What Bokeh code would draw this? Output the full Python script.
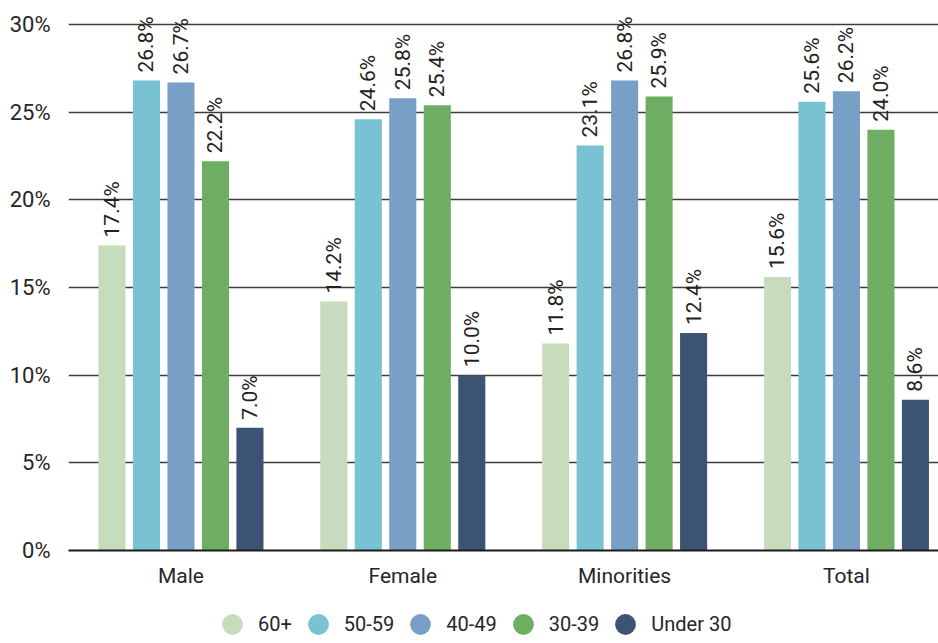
import numpy as np
from bokeh.plotting import figure
from bokeh.layouts import column
from bokeh.models import (ColumnDataSource, Range1d, FixedTicker, PrintfTickFormatter,
                          Legend, LegendItem)
from bokeh.core.properties import value
from bokeh.embed import file_html
from bokeh.resources import INLINE

# ---- data ----
groups = ["Male", "Female", "Minorities", "Total"]
series = ["60+", "50-59", "40-49", "30-39", "Under 30"]
v_60plus = [17.4, 14.2, 11.8, 15.6]
v_50_59 = [26.8, 24.6, 23.1, 25.6]
v_40_49 = [26.7, 25.8, 26.8, 26.2]
v_30_39 = [22.2, 25.4, 25.9, 24.0]
v_under30 = [7.0, 10.0, 12.4, 8.6]
y_ticks = [0, 5, 10, 15, 20, 25, 30]

values = [v_60plus, v_50_59, v_40_49, v_30_39, v_under30]
colors = ["#c7dcbd", "#79c2d4", "#789fc5", "#6dae63", "#3c5373"]

FONT = "Roboto"
TXT = "#262626"

p = figure(width=938, height=591, output_backend="svg", toolbar_location=None,
           x_range=Range1d(-0.507, 3.415), y_range=Range1d(0, 31.37),
           min_border_left=68, min_border_right=0, min_border_top=0,
           min_border_bottom=41)
p.outline_line_color = None
p.background_fill_color = "white"
p.border_fill_color = "white"
p.xgrid.grid_line_color = None
p.ygrid.grid_line_color = "#3c3c3c"
p.ygrid.grid_line_width = 1.3
p.ygrid.ticker = FixedTicker(ticks=y_ticks)

p.yaxis.ticker = FixedTicker(ticks=y_ticks)
p.yaxis.formatter = PrintfTickFormatter(format="%d%%")
p.yaxis.axis_line_color = None
p.yaxis.major_tick_line_color = None
p.yaxis.minor_tick_line_color = None
p.yaxis.major_label_text_font = FONT
p.yaxis.major_label_text_font_size = "22px"
p.yaxis.major_label_text_color = TXT
p.yaxis.major_label_standoff = 12

p.xaxis.ticker = FixedTicker(ticks=list(range(len(groups))))
p.xaxis.major_label_overrides = {i: g for i, g in enumerate(groups)}
p.xaxis.axis_line_color = "#1a1a1a"
p.xaxis.axis_line_width = 2
p.xaxis.major_tick_line_color = None
p.xaxis.minor_tick_line_color = None
p.xaxis.major_label_text_font = FONT
p.xaxis.major_label_text_font_size = "21px"
p.xaxis.major_label_text_color = TXT
p.xaxis.major_label_standoff = 7

# legend figure
lf = figure(width=938, height=52, output_backend="svg", toolbar_location=None,
            x_range=Range1d(0, 1), y_range=Range1d(0, 1),
            x_axis_type=None, y_axis_type=None,
            min_border_left=0, min_border_right=0, min_border_top=0,
            min_border_bottom=0)
lf.outline_line_color = None
lf.xgrid.grid_line_color = None
lf.ygrid.grid_line_color = None
lf.border_fill_color = "white"

step = 0.1555
bw = 0.122
gx = np.arange(len(groups))
items = []
for i, (name, vals, col) in enumerate(zip(series, values, colors)):
    xs = gx + (i - 2) * step
    src = ColumnDataSource(dict(x=xs, top=vals,
                                lab=["%.1f%%" % v for v in vals]))
    p.vbar(x="x", top="top", width=bw, bottom=0, source=src,
           fill_color=col, line_color=None)
    p.text(x="x", y="top", text="lab", source=src, angle=np.pi / 2,
           text_align="left", text_baseline="middle", y_offset=-8,
           text_font=value(FONT), text_font_size="21px", text_color="#222222")
    dot = lf.scatter(x=[-5], y=[-5], size=20, marker="circle", fill_color=col,
                     line_color=None)
    items.append(LegendItem(label=name, renderers=[dot]))

legend = Legend(items=items, orientation="horizontal", location=(138, -7),
                glyph_width=52, glyph_height=52, label_standoff=0, spacing=0,
                padding=0, margin=0, border_line_color=None,
                background_fill_alpha=0, label_text_font=FONT,
                label_text_font_size="20px", label_text_color=TXT,
                label_text_baseline="middle")
lf.add_layout(legend, "center")

layout = column(p, lf, spacing=0)
open("out.html", "w").write(file_html(layout, INLINE))
